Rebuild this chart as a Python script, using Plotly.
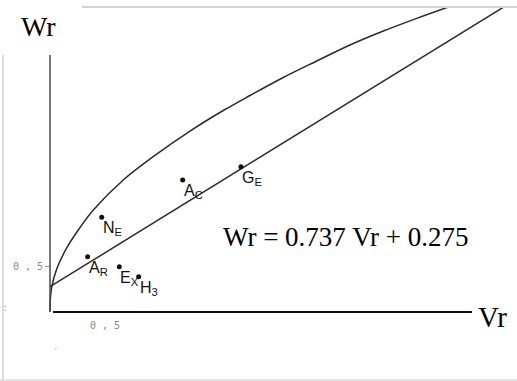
import plotly.graph_objects as go

W, H = 517, 381

# Upper bounding curve Wr(Vr)
curve_vr = [0.0, 0.005, 0.018, 0.061, 0.152, 0.273, 0.394, 0.666, 0.970, 1.273,
            1.575, 1.818, 2.121, 2.425, 2.727, 3.030, 3.334, 3.621]
curve_wr = [0.0, 0.174, 0.283, 0.467, 0.696, 0.918, 1.109, 1.435, 1.717, 1.967,
            2.190, 2.353, 2.549, 2.728, 2.902, 3.054, 3.192, 3.315]

# Regression line Wr = slope * Vr + intercept
slope = 0.737
intercept = 0.275

# Observed points
point_names = ["N<sub>E</sub>", "A<sub>R</sub>", "E<sub>X</sub>", "H<sub>3</sub>",
               "A<sub>C</sub>", "G<sub>E</sub>"]
point_vr = [0.47, 0.342, 0.63, 0.806, 1.206, 1.736]
point_wr = [1.03, 0.601, 0.492, 0.384, 1.435, 1.579]

# Axis ticks
tick_vals = [0.5]
tick_text = ["0 , 5"]

# Pixel layout of the axes (origin and scale)
ox, oy = 50, 312
sx, sy = 110, 92
top_px = 7
x_range = [-ox / sx, (W - ox) / sx]
y_range = [(oy - H) / sy, (oy - top_px) / sy]

INK = "#2a2a2a"
SERIF = "Liberation Serif, Times New Roman, serif"
SANS = "Liberation Sans, Arial, sans-serif"
MONO = "DejaVu Sans Mono, monospace"

fig = go.Figure()

fig.add_trace(go.Scatter(
    x=curve_vr, y=curve_wr, mode="lines",
    line=dict(color=INK, width=1.5, shape="spline", smoothing=1.0),
    hoverinfo="skip", showlegend=False))

line_x = [0, x_range[1]]
line_y = [slope * v + intercept for v in line_x]
fig.add_trace(go.Scatter(
    x=line_x, y=line_y, mode="lines",
    line=dict(color=INK, width=1.5),
    hoverinfo="skip", showlegend=False))

fig.add_trace(go.Scatter(
    x=point_vr, y=point_wr, mode="markers",
    marker=dict(color="#111111", size=5),
    hoverinfo="skip", showlegend=False))

for name, vx, wy in zip(point_names, point_vr, point_wr):
    fig.add_annotation(
        x=vx, y=wy, text=name, showarrow=False,
        xanchor="left", yanchor="top", xshift=-1, yshift=0,
        font=dict(family=SANS, size=16, color="#111111"))

# Axis lines
fig.add_shape(type="line", x0=0, x1=0, y0=0.01, y1=(oy - 55) / sy,
              line=dict(color="#4a4a4a", width=1.5))
fig.add_shape(type="line", x0=3 / sx, x1=(472 - ox) / sx, y0=0, y1=0,
              line=dict(color="#111111", width=2))


def px_x(p):
    return p / W


def px_y(p):
    return 1 - p / H


# Page frame lines
fig.add_shape(type="line", xref="paper", yref="paper",
              x0=px_x(82), x1=1, y0=px_y(7), y1=px_y(7),
              line=dict(color="#d4d4d4", width=2))
fig.add_shape(type="line", xref="paper", yref="paper",
              x0=px_x(3), x1=px_x(3), y0=px_y(55), y1=0,
              line=dict(color="#cfcfcf", width=1.5))
fig.add_shape(type="line", xref="paper", yref="paper",
              x0=0, x1=1, y0=px_y(380), y1=px_y(380),
              line=dict(color="#dddddd", width=1.5))

# Axis titles and equation
fig.add_annotation(xref="paper", yref="paper", x=px_x(38), y=px_y(27),
                   text="Wr", showarrow=False, xanchor="center", yanchor="middle",
                   font=dict(family=SERIF, size=28, color="#000000"))
fig.add_annotation(xref="paper", yref="paper", x=px_x(476), y=px_y(317),
                   text="Vr", showarrow=False, xanchor="left", yanchor="middle",
                   font=dict(family=SERIF, size=29, color="#000000"))
fig.add_annotation(xref="paper", yref="paper", x=px_x(221), y=px_y(237),
                   text=f"Wr = {slope} Vr + {intercept}", showarrow=False,
                   xanchor="left", yanchor="middle",
                   font=dict(family=SERIF, size=27, color="#000000"))

# Small specks on the page
fig.add_annotation(xref="paper", yref="paper", x=px_x(2), y=px_y(315),
                   text=":", showarrow=False,
                   font=dict(family=SANS, size=9, color="#888888"))
fig.add_annotation(xref="paper", yref="paper", x=px_x(53), y=px_y(358),
                   text="'", showarrow=False,
                   font=dict(family=SANS, size=9, color="#aaaaaa"))

fig.update_layout(
    width=W, height=H,
    margin=dict(l=0, r=0, t=0, b=0),
    paper_bgcolor="white", plot_bgcolor="white",
    xaxis=dict(range=x_range, domain=[0, 1], anchor="free", position=1 - oy / H,
               showgrid=False, zeroline=False, showline=False,
               tickvals=tick_vals, ticktext=tick_text,
               ticks="outside", ticklen=4, tickcolor="rgba(0,0,0,0)",
               tickfont=dict(family=MONO, size=10, color="#8a8a8a")),
    yaxis=dict(range=y_range, domain=[0, 1 - top_px / H], anchor="free", position=ox / W,
               showgrid=False, zeroline=False, showline=False,
               tickvals=tick_vals, ticktext=tick_text,
               ticks="outside", ticklen=5, tickcolor="#999999",
               tickfont=dict(family=MONO, size=10, color="#8a8a8a")),
)

fig.write_html("out.html")
